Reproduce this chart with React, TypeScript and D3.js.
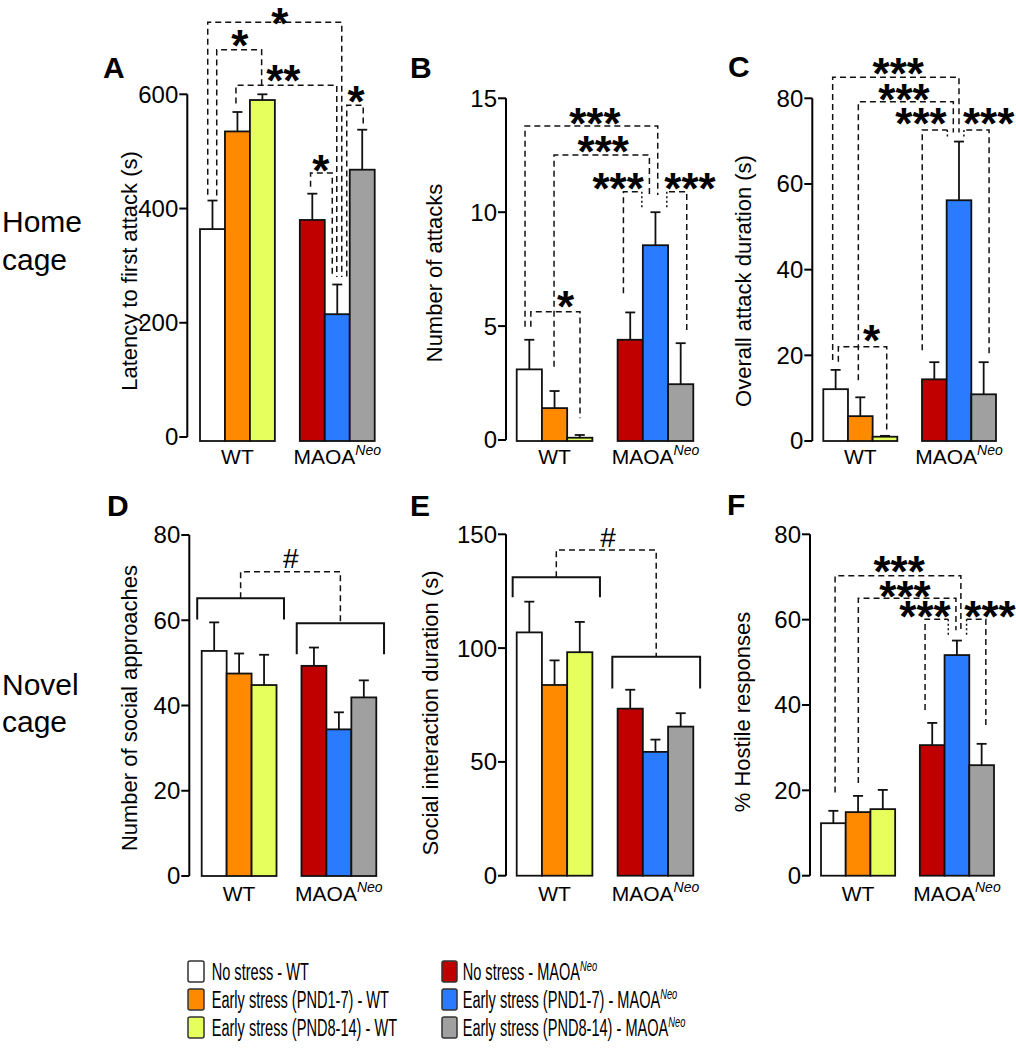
import React from "react";
import * as d3 from "d3";

const FONT = "'Liberation Sans', Arial, Helvetica, sans-serif";

// ---------- data ----------
const seriesLabels = [
  "No stress - WT",
  "Early stress (PND1-7) - WT",
  "Early stress (PND8-14) - WT",
  "No stress - MAOA",
  "Early stress (PND1-7) - MAOA",
  "Early stress (PND8-14) - MAOA",
];
const seriesSup = ["", "", "", "Neo", "Neo", "Neo"];
const seriesColors = ["#ffffff", "#ff8a00", "#e6ff5c", "#c00000", "#2a7bff", "#a0a0a0"];
const groupLabels = ["WT", "MAOA"];
const groupSup = ["", "Neo"];

const latencyMean = [364, 535, 590, 380, 215, 468];
const latencySem = [50, 34, 10, 46, 52, 70];
const latencyTicks = [0, 200, 400, 600];

const attacksMean = [3.1, 1.4, 0.1, 4.4, 8.55, 2.45];
const attacksSem = [1.3, 0.75, 0.12, 1.2, 1.45, 1.8];
const attacksTicks = [0, 5, 10, 15];

const durationMean = [12.1, 5.8, 1.0, 14.4, 56.2, 10.9];
const durationSem = [4.5, 4.4, 0.2, 4.0, 13.7, 7.5];
const durationTicks = [0, 20, 40, 60, 80];

const approachMean = [52.8, 47.5, 44.8, 49.3, 34.4, 41.9];
const approachSem = [6.7, 4.7, 7.1, 4.3, 4.0, 4.0];
const approachTicks = [0, 20, 40, 60, 80];

const socialMean = [106.9, 83.8, 98.2, 73.4, 54.4, 65.5];
const socialSem = [13.5, 10.8, 13.3, 8.3, 5.4, 5.9];
const socialTicks = [0, 50, 100, 150];

const hostileMean = [12.3, 14.9, 15.6, 30.6, 51.7, 25.9];
const hostileSem = [2.9, 3.8, 4.5, 5.2, 3.4, 5.0];
const hostileTicks = [0, 20, 40, 60, 80];

// significance brackets (x in bar-slot units, y in data units)
const latencySig = [
  { x1: 0.31, b1: 424, x2: 5.68, b2: 280, top: 726, label: "*", lx: 3.2, ly: 738 },
  { x1: 0.67, b1: 423, x2: 2.47, b2: 616, top: 678, label: "*", lx: 1.6, ly: 700 },
  { x1: 1.44, b1: 584, x2: 5.48, b2: 280, top: 616, label: "**", lx: 3.34, ly: 639 },
  { x1: 4.43, b1: 438, x2: 5.3, b2: 280, top: 462, label: "*", lx: 4.84, ly: 481 },
  { x1: 6.54, b1: 549, x2: 5.88, b2: 280, top: 581, label: "*", lx: 6.25, ly: 602 },
];
const attacksSig = [
  { x1: 0.33, b1: 4.97, x2: 5.59, b2: 10.75, top: 13.78, label: "***", lx: 3.1, ly: 14.27 },
  { x1: 1.48, b1: 3.22, x2: 5.26, b2: 10.75, top: 12.51, label: "***", lx: 3.43, ly: 13.02 },
  { x1: 4.23, b1: 6.44, x2: 4.96, b2: 10.2, top: 10.9, label: "***", lx: 4.02, ly: 11.41, dot: true },
  { x1: 6.74, b1: 4.83, x2: 5.95, b2: 10.2, top: 10.9, label: "***", lx: 6.87, ly: 11.41, dot: true },
  { x1: 0.56, b1: 4.97, x2: 2.51, b2: 0.95, top: 5.63, label: "*", lx: 1.94, ly: 6.22 },
];
const durationSig = [
  { x1: 0.38, b1: 18.9, x2: 5.5, b2: 72, top: 84.9, label: "***", lx: 3.04, ly: 87.8 },
  { x1: 1.42, b1: 14.2, x2: 5.27, b2: 72, top: 79.2, label: "***", lx: 3.27, ly: 81.6 },
  { x1: 4.01, b1: 21.2, x2: 5.03, b2: 70.5, top: 72.6, label: "***", lx: 3.96, ly: 76.1, dot: true },
  { x1: 6.72, b1: 20.5, x2: 5.7, b2: 70.5, top: 72.6, label: "***", lx: 6.7, ly: 76.1, dot: true },
  { x1: 0.61, b1: 18.5, x2: 2.57, b2: 1.8, top: 22.0, label: "*", lx: 1.96, ly: 25.5 },
];
const hostileSig = [
  { x1: 0.57, b1: 19.5, x2: 5.66, b2: 57.5, top: 70.3, label: "***", lx: 3.16, ly: 73.3 },
  { x1: 1.51, b1: 21.7, x2: 5.46, b2: 57.5, top: 65.0, label: "***", lx: 3.4, ly: 67.4 },
  { x1: 4.21, b1: 38.8, x2: 5.15, b2: 55.9, top: 60.1, label: "***", lx: 4.21, ly: 62.7, dot: true },
  { x1: 6.67, b1: 35.3, x2: 5.89, b2: 55.9, top: 60.1, label: "***", lx: 6.84, ly: 62.7, dot: true },
];
const approachGroupSig = {
  wt: { x1: -0.18, x2: 3.3, y: 65.15, drop: 60.2 },
  maoa: { x1: 3.81, x2: 7.31, y: 59.3, drop: 52.0 },
  top: 71.4, label: "#", lx: 3.57, ly: 74.6,
};
const socialGroupSig = {
  wt: { x1: -0.16, x2: 3.3, y: 131.1, drop: 122.3 },
  maoa: { x1: 3.79, x2: 7.27, y: 96.2, drop: 82.3 },
  top: 143.1, label: "#", lx: 3.62, ly: 149,
};

// ---------- layout ----------
const layouts = {
  A: { axisX: 187.3, x0: 200, x1: 374.7, yB: 437, yT: 94.3, base: 441, lx: 103, ly: 78, tX: 137, tY: 271 },
  B: { axisX: 506, x0: 516.7, x1: 693.3, yB: 440, yT: 98.3, base: 441, lx: 410, ly: 78, tX: 442, tY: 273 },
  C: { axisX: 812.3, x0: 823.3, x1: 996, yB: 441, yT: 98.3, base: 441, lx: 728, ly: 77, tX: 751, tY: 281 },
  D: { axisX: 189.3, x0: 201.7, x1: 376.3, yB: 876, yT: 535, base: 876, lx: 107, ly: 516, tX: 137, tY: 708 },
  E: { axisX: 506, x0: 516.7, x1: 693.3, yB: 875.7, yT: 534.3, base: 875.7, lx: 410, ly: 516, tX: 438, tY: 713 },
  F: { axisX: 810, x0: 821, x1: 994, yB: 875.7, yT: 534.3, base: 875.7, lx: 727, ly: 515, tX: 750, tY: 712 },
};

const panels = [
  { key: "A", mean: latencyMean, sem: latencySem, ticks: latencyTicks, title: "Latency to first attack (s)", sig: latencySig, gsig: null, row: 0 },
  { key: "B", mean: attacksMean, sem: attacksSem, ticks: attacksTicks, title: "Number of attacks", sig: attacksSig, gsig: null, row: 0 },
  { key: "C", mean: durationMean, sem: durationSem, ticks: durationTicks, title: "Overall attack duration (s)", sig: durationSig, gsig: null, row: 0 },
  { key: "D", mean: approachMean, sem: approachSem, ticks: approachTicks, title: "Number of social approaches", sig: [], gsig: approachGroupSig, row: 1 },
  { key: "E", mean: socialMean, sem: socialSem, ticks: socialTicks, title: "Social interaction duration (s)", sig: [], gsig: socialGroupSig, row: 1 },
  { key: "F", mean: hostileMean, sem: hostileSem, ticks: hostileTicks, title: "% Hostile responses", sig: hostileSig, gsig: null, row: 1 },
];

const slotOf = (i: number) => (i < 3 ? i : i + 1);
const groupSlots = [1, 5];

function Panel({ p }: { p: any }) {
  const L = (layouts as any)[p.key];
  const xBand = d3.scaleBand<number>().domain(d3.range(7)).range([L.x0, L.x1]).padding(0);
  const bw = xBand.bandwidth();
  const xu = d3.scaleLinear().domain([0, 7]).range([L.x0, L.x1]);
  const maxT = d3.max(p.ticks as number[]) as number;
  const y = d3.scaleLinear().domain([0, maxT]).range([L.yB, L.yT]);
  const xLabY = p.row === 0 ? 464 : 901;
  const dash = "6,4";
  const dot = "2,2.5";

  return (
    <g>
      <text x={L.lx} y={L.ly} fontSize={30} fontWeight="bold" fontFamily={FONT}>{p.key}</text>
      <text transform={`translate(${L.tX},${L.tY}) rotate(-90)`} textAnchor="middle" fontSize={22} fontFamily={FONT}>{p.title}</text>
      {/* axis */}
      <line x1={L.axisX} x2={L.axisX} y1={y(0)} y2={y(maxT)} stroke="#000" strokeWidth={2} />
      {(p.ticks as number[]).map((t) => (
        <g key={t}>
          <line x1={L.axisX - 8} x2={L.axisX} y1={y(t)} y2={y(t)} stroke="#000" strokeWidth={2} />
          <text x={L.axisX - 9} y={y(t)} dy="0.35em" textAnchor="end" fontSize={24} fontFamily={FONT}>{t}</text>
        </g>
      ))}
      {/* bars */}
      {(p.mean as number[]).map((m, i) => {
        const x = xBand(slotOf(i)) as number;
        return (
          <rect key={i} x={x} y={y(m)} width={bw} height={L.base - y(m)} fill={seriesColors[i]} stroke="#111" strokeWidth={1.8} />
        );
      })}
      {/* error bars */}
      {(p.mean as number[]).map((m, i) => {
        const cx = (xBand(slotOf(i)) as number) + bw / 2;
        const top = y(m + p.sem[i]);
        return (
          <g key={i} stroke="#111" strokeWidth={1.8}>
            <line x1={cx} x2={cx} y1={y(m)} y2={top} />
            <line x1={cx - 5} x2={cx + 5} y1={top} y2={top} />
          </g>
        );
      })}
      {/* group labels */}
      {groupLabels.map((g, gi) => (
        <text key={g} x={(xBand(groupSlots[gi]) as number) + bw / 2} y={xLabY} textAnchor="middle" fontSize={21} fontFamily={FONT}>
          {g}
          {groupSup[gi] && (
            <tspan fontSize={14} fontStyle="italic" dy={-9}>{groupSup[gi]}</tspan>
          )}
        </text>
      ))}
      {/* significance brackets */}
      {(p.sig as any[]).map((s, k) => (
        <g key={k}>
          <path
            d={`M${xu(s.x1)},${y(s.b1)}V${y(s.top)}H${xu(s.x2)}${s.dot ? "" : `V${y(s.b2)}`}`}
            fill="none" stroke="#111" strokeWidth={1.5} strokeDasharray={dash}
          />
          {s.dot && (
            <path d={`M${xu(s.x2)},${y(s.top)}V${y(s.b2)}`} fill="none" stroke="#111" strokeWidth={1.5} strokeDasharray={dot} />
          )}
          <text x={xu(s.lx)} y={y(s.ly) + 24} textAnchor="middle" fontSize={44} fontWeight="bold" fontFamily={FONT}>{s.label}</text>
        </g>
      ))}
      {p.gsig && (
        <g>
          {[p.gsig.wt, p.gsig.maoa].map((b: any, k: number) => (
            <path key={k} d={`M${xu(b.x1)},${y(b.drop)}V${y(b.y)}H${xu(b.x2)}V${y(b.drop)}`} fill="none" stroke="#111" strokeWidth={2} />
          ))}
          <path
            d={`M${xu((p.gsig.wt.x1 + p.gsig.wt.x2) / 2)},${y(p.gsig.wt.y)}V${y(p.gsig.top)}H${xu((p.gsig.maoa.x1 + p.gsig.maoa.x2) / 2)}V${y(p.gsig.maoa.y)}`}
            fill="none" stroke="#111" strokeWidth={1.5} strokeDasharray={dash}
          />
          <text x={xu(p.gsig.lx)} y={y(p.gsig.ly) + 10} textAnchor="middle" fontSize={28} fontFamily={FONT}>{p.gsig.label}</text>
        </g>
      )}
    </g>
  );
}

const legendCols = [
  { boxX: 188, boxW: 16, textX: 211.7 },
  { boxX: 442, boxW: 15, textX: 462.7 },
];
const legendRows = [971.5, 999.5, 1027.5];

export default function App() {
  return (
    <svg width={1016} height={1050} style={{ position: "absolute", left: 0, top: 0, display: "block", background: "#fff" }}>
      <rect x={0} y={0} width={1016} height={1050} fill="#fff" />
      <text fontSize={30} fontFamily={FONT}>
        <tspan x={2} y={232}>Home</tspan>
        <tspan x={2} y={270}>cage</tspan>
      </text>
      <text fontSize={30} fontFamily={FONT}>
        <tspan x={2} y={695}>Novel</tspan>
        <tspan x={2} y={732}>cage</tspan>
      </text>
      {panels.map((p) => (
        <Panel key={p.key} p={p} />
      ))}
      {seriesLabels.map((lab, i) => {
        const c = legendCols[i < 3 ? 0 : 1];
        const cy = legendRows[i % 3];
        return (
          <g key={i}>
            <rect x={c.boxX} y={cy - 10.5} width={c.boxW} height={21} rx={2} fill={seriesColors[i]} stroke="#333" strokeWidth={1.5} />
            <g transform={`translate(${c.textX},${cy + 8.5}) scale(0.62,1)`}>
              <text x={0} y={0} fontSize={23.5} fontFamily={FONT}>
                {lab}
                {seriesSup[i] && <tspan fontSize={15} fontStyle="italic" dy={-9}>{seriesSup[i]}</tspan>}
              </text>
            </g>
          </g>
        );
      })}
    </svg>
  );
}
